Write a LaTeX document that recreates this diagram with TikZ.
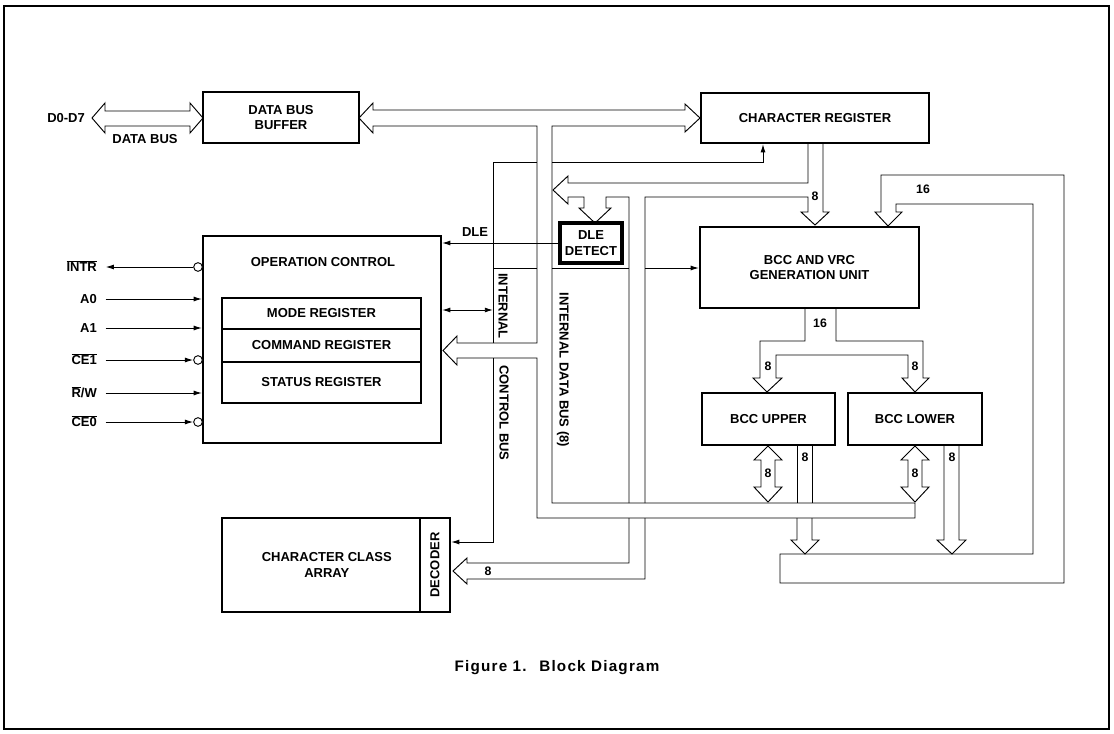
\documentclass[tikz,border=0pt]{standalone}
\usepackage{fontspec}
\setmainfont{Liberation Sans}
\usetikzlibrary{arrows.meta}

\begin{document}
\begin{tikzpicture}[
    x=0.03cm, y=-0.03cm,
    font=\bfseries\fontsize{11.1}{13}\selectfont,
    >={Latex[length=7pt,width=4.2pt]},
    % Node Styles
    block/.style={draw, line width=1.9pt, inner sep=0pt, align=center},
    size/.style 2 args={minimum width=#1cm, minimum height=#2cm},
    bubble/.style={circle, draw, line width=0.8pt, fill=white, inner sep=0pt, minimum size=2.6mm},
    pin/.style={anchor=east, text height=8pt, text depth=0pt},
    num/.style={font=\bfseries\fontsize{10.5}{11}\selectfont, inner sep=1pt},
    % Line Styles
    sig/.style={line width=0.8pt},
    bus/.style={line width=0.8pt, line join=miter}
]
\useasboundingbox (0,0) rectangle (1114,734);

% =========================================================
% FRAME
% =========================================================
\draw[line width=0.9pt] (4,6) rectangle (1109,729);

% =========================================================
% BLOCKS
% =========================================================
\node[block, size={4.68}{1.53}] (buffer) at (281,117.5) {DATA BUS\\BUFFER};
\node[block, size={6.84}{1.5}] (charreg) at (815,118) {CHARACTER REGISTER};
\node[block, size={6.57}{2.43}] (bccvrc) at (809.5,267.5) {BCC AND VRC\\GENERATION UNIT};
\node[block, size={3.99}{1.56}] (bccup) at (768.5,419) {BCC UPPER};
\node[block, size={4.02}{1.56}] (bcclow) at (915,419) {BCC LOWER};
\node[block, size={1.86}{1.2}, line width=2.6pt] (dledet) at (591,243) {DLE\\DETECT};

% Operation control with its registers
\node[block, size={7.14}{6.21}] (opctrl) at (322,339.5) {};
\node (optitle) at (323,262) {OPERATION CONTROL};
\node[block, size={5.97}{0.93}] (modereg) at (321.5,313.5) {MODE REGISTER};
\node[block, size={5.97}{0.99}] (cmdreg) at (321.5,345.5) {COMMAND REGISTER};
\node[block, size={5.97}{1.23}] (statreg) at (321.5,382.5) {STATUS REGISTER};

% Character class array and decoder
\node[block, size={5.94}{2.82}] (ccarray) at (321,565) {\hspace{0.35cm}CHARACTER CLASS\\\hspace{0.35cm}ARRAY};
\node[block, size={0.9}{2.82}] (decoder) at (435,565) {};
\node[rotate=90] (declbl) at (decoder.center) {DECODER};

% =========================================================
% PINS
% =========================================================
\node[pin] (intr) at (101,267) {$\overline{\mbox{INTR}}$};
\node[pin] (a0) at (101,299) {A0};
\node[pin] (a1) at (101,328) {A1};
\node[pin] (ce1) at (101,360) {$\overline{\mbox{CE1}}$};
\node[pin] (rw) at (101,393) {$\overline{\mbox{R}}$/W};
\node[pin] (ce0) at (101,422) {$\overline{\mbox{CE0}}$};
\node[bubble] (intrb) at (198,267) {};
\node[bubble] (ce1b) at (198,360) {};
\node[bubble] (ce0b) at (198,422) {};

\draw[sig, ->, shorten >=4pt] (intrb) -- (intr.east);
\draw[sig, ->, shorten <=4pt] (a0.east) -- (a0.east -| opctrl.west);
\draw[sig, ->, shorten <=4pt] (a1.east) -- (a1.east -| opctrl.west);
\draw[sig, ->, shorten <=4pt] (ce1.east) -- (ce1b.west);
\draw[sig, ->, shorten <=4pt] (rw.east) -- (rw.east -| opctrl.west);
\draw[sig, ->, shorten <=4pt] (ce0.east) -- (ce0b.west);

% =========================================================
% EXTERNAL DATA BUS
% =========================================================
\draw[bus] (92,118) -- (105,103) -- (105,111) -- (190,111) -- (190,103) -- (203,118)
    -- (190,133) -- (190,126) -- (105,126) -- (105,133) -- cycle;
\node[anchor=east] (dlbl) at (89,118) {D0-D7};
\node (dbuslbl) at (145,139) {DATA BUS};

% =========================================================
% INTERNAL DATA BUS (8)
% =========================================================
\draw[bus] (373,126) -- (373,133) -- (359,118) -- (373,103) -- (373,110) -- (685,110)
    -- (685,104) -- (700,118) -- (685,132) -- (685,126) -- (552,126) -- (552,503)
    -- (915,503) -- (915,518) -- (537,518) -- (537,358) -- (457,358) -- (457,365)
    -- (443,350.5) -- (457,336) -- (457,343) -- (537,343) -- (537,126) -- cycle;
\node[rotate=-90] (idblbl) at (563,370) {INTERNAL DATA BUS (8)};

% Character register out: to data bus, DLE detect and decoder
\draw[bus] (808,143) -- (808,183) -- (568,183) -- (568,176) -- (553,190) -- (568,204)
    -- (568,197) -- (584,197) -- (584,208) -- (579,208) -- (595,223) -- (611,208)
    -- (606,208) -- (606,197) -- (629,197) -- (629,503);
\draw[bus] (629,518) -- (629,563) -- (467,563) -- (467,558) -- (453,571) -- (467,584)
    -- (467,579) -- (645,579) -- (645,518);
\draw[bus] (645,503) -- (645,197) -- (808,197) -- (808,212) -- (801,212) -- (815,225)
    -- (829,212) -- (823,212) -- (823,143);
\node[num] (n8a) at (815,196) {8};
\node[num] (n8dec) at (488,571) {8};

% 16 bit feedback into BCC and VRC
\draw[bus] (875,212) -- (888,226) -- (902,212) -- (896,212) -- (896,204) -- (1033,204)
    -- (1033,554) -- (780,554) -- (780,583) -- (1064,583) -- (1064,175) -- (881,175)
    -- (881,212) -- cycle;
\node[num] (n16a) at (923,189) {16};

% BCC and VRC out to BCC upper and lower
\draw[bus] (805,308) -- (805,341) -- (760,341) -- (760,378) -- (753,378) -- (767,392)
    -- (782,378) -- (776,378) -- (776,355) -- (908,355) -- (908,378) -- (902,378)
    -- (915,392) -- (929,378) -- (923,378) -- (923,341) -- (836,341) -- (836,308);
\node[num] (n16b) at (820,323) {16};
\node[num] (n8b) at (768,366) {8};
\node[num] (n8c) at (915,366) {8};

% BCC upper / lower to and from data bus
\draw[bus] (768,446) -- (782,460) -- (775,460) -- (775,487) -- (782,487) -- (768,502)
    -- (754,487) -- (761,487) -- (761,460) -- (754,460) -- cycle;
\draw[bus] (915,446) -- (929,460) -- (922,460) -- (922,487) -- (929,487) -- (915,502)
    -- (901,487) -- (908,487) -- (908,460) -- (901,460) -- cycle;
\node[num] (n8d) at (768,473) {8};
\node[num] (n8e) at (915,473) {8};

% BCC upper / lower out to feedback bus
\draw[bus] (797,445) -- (797,503);
\draw[bus] (812,445) -- (812,503);
\draw[bus] (797,518) -- (797,540) -- (791,540) -- (805,554) -- (819,540) -- (812,540) -- (812,518);
\draw[bus] (944,445) -- (944,540) -- (937,540) -- (952,554) -- (966,540) -- (959,540) -- (959,445);
\node[num] (n8f) at (805,457) {8};
\node[num] (n8g) at (952,457) {8};

% =========================================================
% INTERNAL CONTROL BUS
% =========================================================
\coordinate (cbtop) at (493,162);
\coordinate (cbbot) at (493,542);
\coordinate (cbop) at (493,310);
\coordinate (crin) at (763,162);
\coordinate (bvin) at (645,268);

\draw[sig] (493,343) -- (cbtop) -- (537,162);
\draw[sig, ->] (552,162) -- (crin) -- (crin |- charreg.south);
\draw[sig, ->] (493,358) -- (cbbot) -- (cbbot -| decoder.east);
\draw[sig] (493,268) -- (537,268);
\draw[sig] (552,268) -- (629,268);
\draw[sig, ->] (bvin) -- (bvin -| bccvrc.west);
\draw[sig, <->] (cbop -| opctrl.east) -- (cbop);
\node[rotate=-90] (intlbl) at (503,306) {INTERNAL};
\node[rotate=-90] (cblbl) at (504,413) {CONTROL BUS};

% DLE
\draw[sig, ->] (dledet.west) -- (dledet.west -| opctrl.east);
\node (dlelbl) at (475,232) {DLE};

% =========================================================
% CAPTION
% =========================================================
\node[font=\bfseries\fontsize{13}{15}\selectfont\addfontfeature{LetterSpace=8}] (caption) at (557,668) {Figure 1. \ Block Diagram};

\end{tikzpicture}
\end{document}
